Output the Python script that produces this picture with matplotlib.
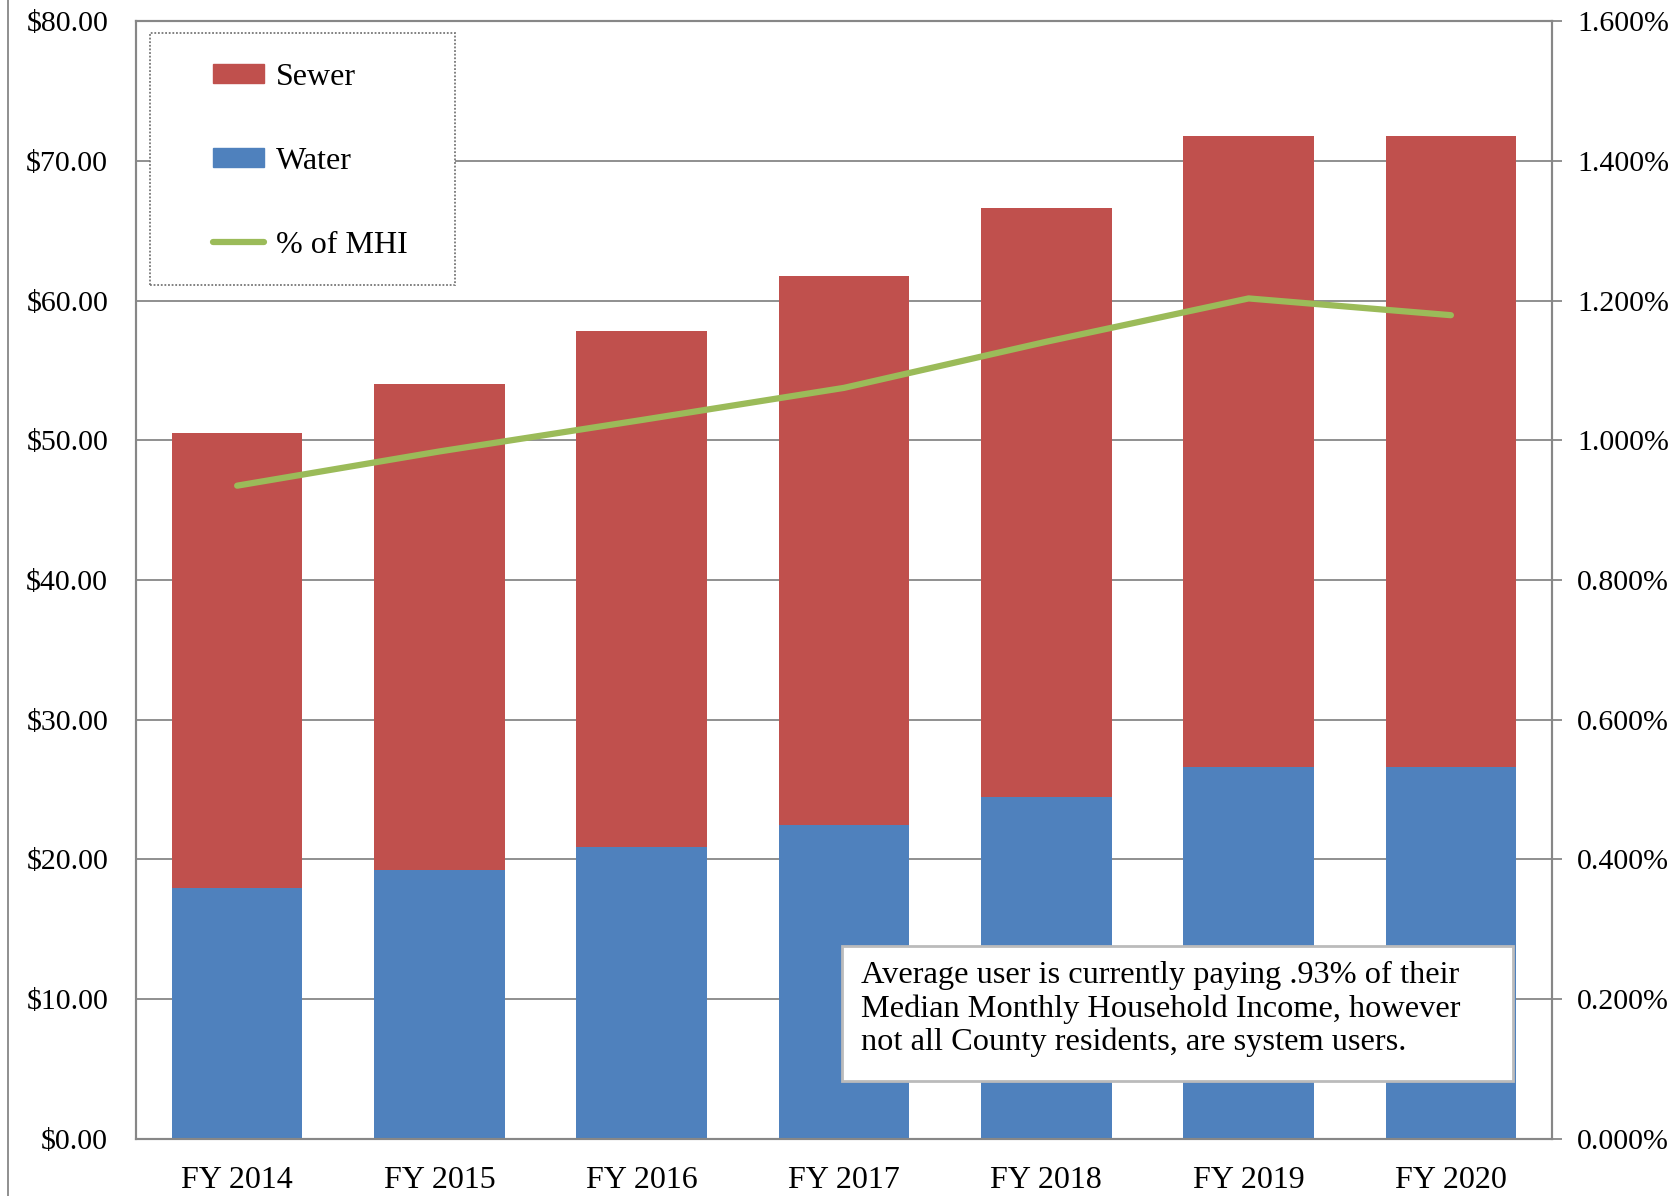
import matplotlib
matplotlib.use("Agg")
import matplotlib.pyplot as plt
from matplotlib.patches import Rectangle, Patch
from matplotlib.lines import Line2D
from matplotlib.ticker import FuncFormatter, MultipleLocator

# monthly bill per user, split by service
years = ["FY 2014", "FY 2015", "FY 2016", "FY 2017", "FY 2018", "FY 2019", "FY 2020"]
water = [17.95, 19.25, 20.86, 22.47, 24.46, 26.61, 26.61]
sewer = [32.59, 34.81, 36.96, 39.26, 42.18, 45.17, 45.17]
pct_mhi = [0.00935, 0.00984, 0.01029, 0.01075, 0.01141, 0.01203, 0.01179]

note = ("Average user is currently paying .93% of their\n"
        "Median Monthly Household Income, however\n"
        "not all County residents, are system users.")

plt.rcParams["font.family"] = ["Liberation Serif", "DejaVu Serif"]
plt.rcParams["font.size"] = 21.5

red = "#C0504D"
blue = "#4F81BD"
green = "#9BBB59"
grey = "#878787"

fig = plt.figure(figsize=(16.81, 11.96), dpi=100)
ax = fig.add_axes([0.0809, 0.0477, 0.8424, 0.9347])
x = list(range(len(years)))

ax.bar(x, water, width=0.645, color=blue, zorder=2)
ax.bar(x, sewer, width=0.645, bottom=water, color=red, zorder=2)

ax.set_xlim(-0.5, len(years) - 0.5)
ax.set_ylim(0, 80)
ax.yaxis.set_major_locator(MultipleLocator(10))
ax.yaxis.set_major_formatter(FuncFormatter(lambda v, p: "${:.2f}".format(v)))
ax.set_xticks(x)
ax.set_xticklabels(years, fontsize=23)
ax.tick_params(axis="x", length=0, pad=19.5)
ax.tick_params(axis="y", length=0, pad=20)
ax.grid(axis="y", color=grey, linewidth=1.3, zorder=0)
ax.set_axisbelow(True)
for s in ax.spines.values():
    s.set_color(grey)
    s.set_linewidth(1.5)

# right axis: share of median household income
ax2 = ax.twinx()
ax2.plot(x, pct_mhi, color=green, linewidth=4.5, solid_capstyle="round", zorder=3)
ax2.set_ylim(0, 0.016)
ax2.yaxis.set_major_locator(MultipleLocator(0.002))
ax2.yaxis.set_major_formatter(FuncFormatter(lambda v, p: "{:.3%}".format(v)))
ax2.tick_params(axis="y", length=7, width=1.3, color=grey, pad=11, labelsize=21.5)
for s in ax2.spines.values():
    s.set_color(grey)
    s.set_linewidth(1.5)

# legend with a dotted frame
ax2.add_patch(Rectangle((0.0099, 0.7639), 0.2154, 0.2254, transform=ax2.transAxes,
                        facecolor="white", edgecolor="#777777", linewidth=1.3,
                        linestyle=(0, (1, 1)), zorder=4))
handles = [Patch(color=red), Patch(color=blue),
           Line2D([], [], color=green, linewidth=4.5, solid_capstyle="round")]
leg = ax2.legend(handles, ["Sewer", "Water", "% of MHI"], loc="upper left",
                 bbox_to_anchor=(0.043, 0.977), frameon=False, borderpad=0,
                 labelspacing=1.72, handlelength=1.6, handleheight=0.53,
                 handletextpad=0.37, fontsize=23)
leg.set_zorder(5)

# note box
ax2.add_patch(Rectangle((0.4986, 0.0519), 0.4739, 0.1207, transform=ax2.transAxes,
                        facecolor="white", edgecolor="#BBBBBB", linewidth=2, zorder=4))
ax2.text(0.512, 0.159, note, transform=ax2.transAxes, ha="left", va="top",
         fontsize=23.3, linespacing=1.18, zorder=5)

# page border on the far left
fig.add_artist(Line2D([8 / 1681, 8 / 1681], [0, 1], color=grey, linewidth=1.3))

fig.savefig("out.png", dpi=100)
